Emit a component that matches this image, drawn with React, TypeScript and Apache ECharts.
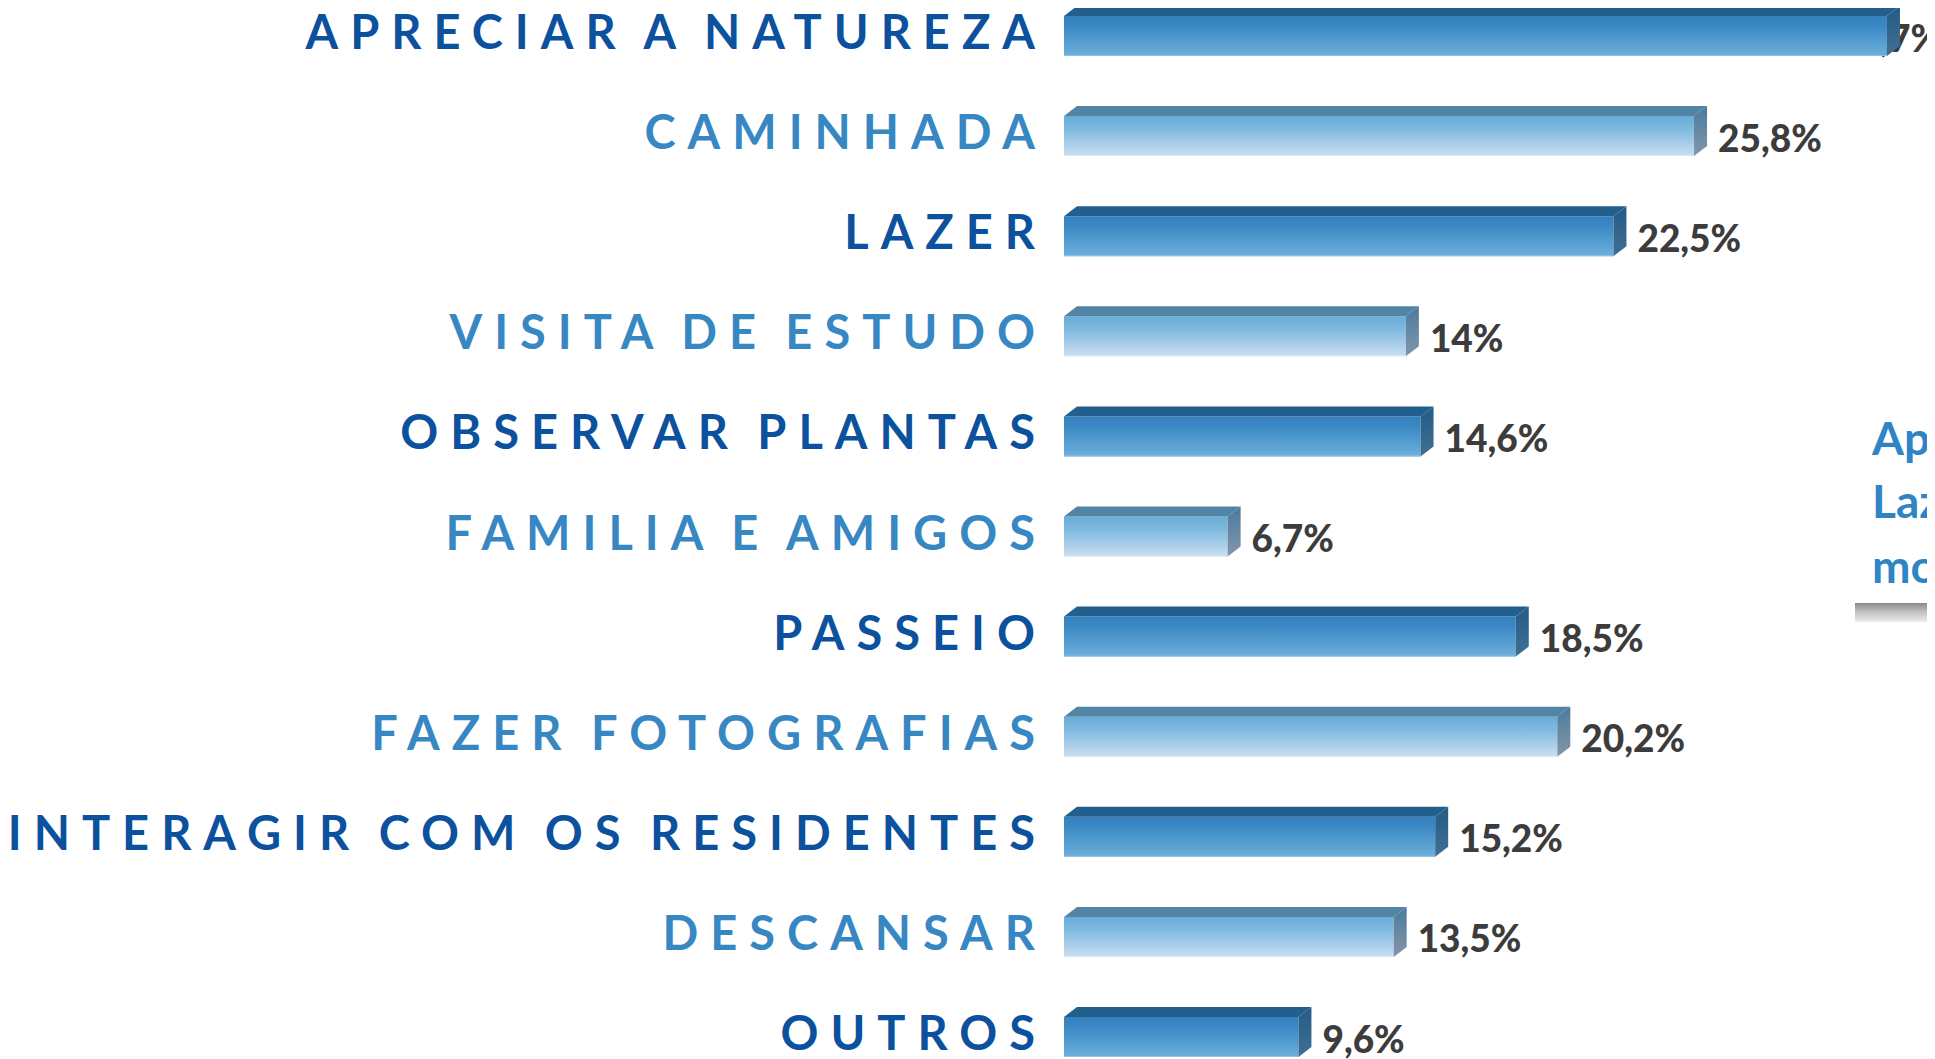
import React, { useEffect, useRef } from "react";
import * as echarts from "echarts";

// ---- data ----
const categories = [
  "APRECIAR A NATUREZA",
  "CAMINHADA",
  "LAZER",
  "VISITA DE ESTUDO",
  "OBSERVAR PLANTAS",
  "FAMILIA E AMIGOS",
  "PASSEIO",
  "FAZER FOTOGRAFIAS",
  "INTERAGIR COM OS RESIDENTES",
  "DESCANSAR",
  "OUTROS",
];
const values = [33.7, 25.8, 22.5, 14, 14.6, 6.7, 18.5, 20.2, 15.2, 13.5, 9.6];
const sideNoteLines = ["Apreciar a Natureza,", "Lazer e Caminhada", "motivações principais"];

// ---- layout / style ----
const W = 1935;
const H = 1059;
const OFF = 40; // the chart canvas extends OFF px above and below the page
const SHIFT = 8; // compensate the page's default body margin
const GRID_LEFT = 1064;
const PX_PER_UNIT = 24.42;
const X_MAX = 35;
const ROW = 100.1;
const FIRST_CENTER = 31;
const LETTER_SPACING = 12;
const WORD_SPACING = -6;
const CAT_FONT = 47;
const VAL_FONT = 37;
const FONT = "Lato, 'Open Sans', sans-serif";
const DEPTH_X = 13;
const DEPTH_Y = 10;
const FRONT_H = 40;

const fmt = (v: number) => String(v).replace(".", ",") + "%";

function measure(text: string, size: number) {
  const c = document.createElement("canvas").getContext("2d");
  if (!c) return text.length * size * 0.55;
  c.font = `900 ${size}px Lato`;
  return c.measureText(text).width;
}

const lg = (stops: [number, string][]) =>
  new echarts.graphic.LinearGradient(
    0,
    0,
    0,
    1,
    stops.map(([offset, color]) => ({ offset, color }))
  );

export default function App() {
  const ref = useRef<HTMLDivElement>(null);

  useEffect(() => {
    if (!ref.current) return;
    const chart = echarts.init(ref.current, undefined, { renderer: "svg" });

    const data = values.map((v, i) => [v, i]);

    const option: any = {
      animation: false,
      backgroundColor: "#ffffff",
      tooltip: { show: false },
      grid: {
        left: GRID_LEFT,
        top: FIRST_CENTER - ROW / 2 + OFF,
        width: X_MAX * PX_PER_UNIT,
        height: ROW * categories.length,
        containLabel: false,
      },
      xAxis: {
        type: "value",
        min: 0,
        max: X_MAX,
        show: false,
      },
      yAxis: {
        type: "category",
        data: categories,
        inverse: true,
        axisLine: { show: false },
        axisTick: { show: false },
        splitLine: { show: false },
        axisLabel: {
          margin: 17,
          fontSize: CAT_FONT,
          fontWeight: 700,
          fontFamily: FONT,
          padding: [0, 0, 9, 0],
          color: (_v: any, i: number) => (i % 2 === 0 ? "#0b519d" : "#3787c3"),
        },
      },
      series: [
        {
          type: "custom",
          silent: true,
          encode: { x: 0, y: 1 },
          data,
          renderItem: (_params: any, api: any) => {
            const v = api.value(0) as number;
            const idx = api.value(1) as number;
            const s = api.coord([0, idx]);
            const e = api.coord([v, idx]);
            const top = s[1] - 25;
            const x0 = s[0];
            const x1 = e[0];
            const dark = idx % 2 === 0;
            const frontFill = dark
              ? lg([
                  [0, "#3381bf"],
                  [0.25, "#3a89c4"],
                  [1, "#6db0db"],
                ])
              : lg([
                  [0, "#68acd7"],
                  [0.3, "#7db8df"],
                  [1, "#cadef1"],
                ]);
            const topFill = dark ? "#235f8c" : "#5285a5";
            const sideFill = dark
              ? lg([
                  [0, "#245b86"],
                  [1, "#416f92"],
                ])
              : lg([
                  [0, "#4a7a9c"],
                  [1, "#8396aa"],
                ]);
            const label = fmt(v);
            const lw = measure(label, VAL_FONT);
            let lx = x1 + DEPTH_X + 11;
            let align = "left";
            if (lx + lw > W) {
              lx = W + 6;
              align = "right";
            }
            return {
              type: "group",
              children: [
                {
                  type: "text",
                  style: {
                    text: label,
                    x: lx,
                    y: top + DEPTH_Y + FRONT_H / 2 + 1,
                    align,
                    verticalAlign: "middle",
                    fontSize: VAL_FONT,
                    fontWeight: 900,
                    fontFamily: FONT,
                    fill: "#3c3c3c",
                  },
                },
                {
                  type: "rect",
                  shape: { x: x0, y: top + DEPTH_Y, width: x1 - x0, height: FRONT_H },
                  style: { fill: frontFill },
                },
                {
                  type: "line",
                  shape: { x1: x0, y1: top + DEPTH_Y + FRONT_H - 0.5, x2: x1, y2: top + DEPTH_Y + FRONT_H - 0.5 },
                  style: { stroke: dark ? "#8cc2e6" : "#dbe9f6", lineWidth: 1 },
                },
                {
                  type: "polygon",
                  shape: {
                    points: [
                      [x0, top + DEPTH_Y],
                      [x0 + DEPTH_X, top],
                      [x1 + DEPTH_X, top],
                      [x1, top + DEPTH_Y],
                    ],
                  },
                  style: { fill: topFill },
                },
                {
                  type: "polygon",
                  shape: {
                    points: [
                      [x1, top + DEPTH_Y],
                      [x1 + DEPTH_X, top],
                      [x1 + DEPTH_X, top + FRONT_H],
                      [x1, top + DEPTH_Y + FRONT_H],
                    ],
                  },
                  style: { fill: sideFill },
                },
              ],
            };
          },
        },
      ],
      graphic: [
        ...sideNoteLines.map((t, i) => ({
          type: "text",
          silent: true,
          left: 1872,
          top: [414, 477, 542][i] + OFF,
          style: {
            text: t,
            fontSize: 46,
            fontWeight: 700,
            fontFamily: FONT,
            fill: "#2f84c3",
          },
        })),
        {
          type: "rect",
          silent: true,
          shape: { x: 1855, y: 603 + OFF, width: 90, height: 19 },
          style: {
            fill: lg([
              [0, "#8a8a8a"],
              [0.5, "#c4c4c4"],
              [1, "#ececec"],
            ]),
          },
        },
      ],
    };

    chart.setOption(option);

    const applySpacing = () => {
      if (!ref.current) return;
      const texts = ref.current.querySelectorAll("text");
      texts.forEach((t) => {
        if (categories.includes((t.textContent || "").trim())) {
          t.setAttribute("letter-spacing", String(LETTER_SPACING));
          t.setAttribute("word-spacing", String(WORD_SPACING));
        }
      });
    };
    applySpacing();
    chart.on("finished", applySpacing);
    const tm = setTimeout(applySpacing, 50);
    const tm2 = setTimeout(applySpacing, 300);

    return () => {
      clearTimeout(tm);
      clearTimeout(tm2);
      chart.dispose();
    };
  }, []);

  return (
    <div
      ref={ref}
      style={{
        position: "fixed",
        left: -SHIFT,
        top: -OFF - SHIFT,
        width: W,
        height: H + 2 * OFF,
        background: "#fff",
      }}
    />
  );
}
